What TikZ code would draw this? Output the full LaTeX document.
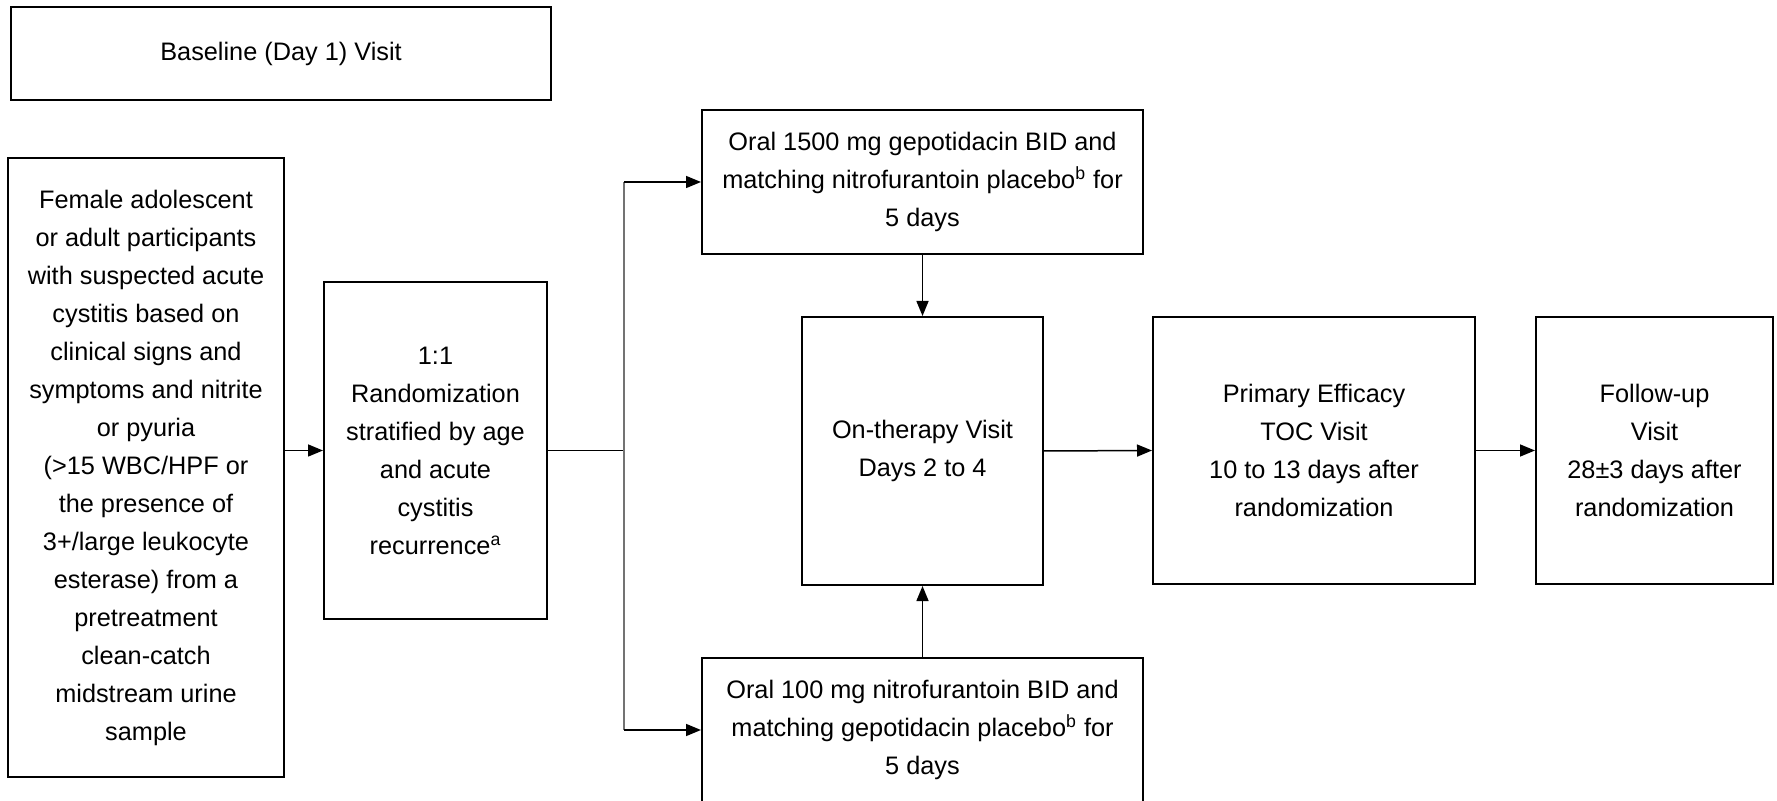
\documentclass[tikz,border=0pt]{standalone}
\usepackage{fontspec}
\setmainfont{Liberation Sans}
\usetikzlibrary{calc,arrows.meta}

\tikzset{
	flowbox/.style={draw,line width=1pt,inner sep=0pt,align=center,font=\fontsize{12.65}{19}\selectfont},
	arr/.style={line width=.75pt,-{Triangle[length=7.5pt,width=6pt]}},
}

\begin{document}
\begin{tikzpicture}[x=0.5pt,y=-0.5pt]
\useasboundingbox (0,0) rectangle (1777,801);

\node [flowbox,minimum width=270pt,minimum height=46.5pt] at (281,53.5) (base) {Baseline (Day 1) Visit};

\node [flowbox,minimum width=138pt,minimum height=309.5pt] at (146,467.5) (src) {Female adolescent\\or adult participants\\with suspected acute\\cystitis based on\\clinical signs and\\symptoms and nitrite\\or pyuria\\(>15 WBC/HPF or\\the presence of\\3+/large leukocyte\\esterase) from a\\pretreatment\\clean-catch\\midstream urine\\sample};

\node [flowbox,minimum width=111.5pt,minimum height=168.5pt] at (435.5,450.5) (rand) {1:1\\Randomization\\stratified by age\\and acute\\cystitis\\recurrence\textsuperscript{a}};

\node [flowbox,minimum width=220.5pt,minimum height=72pt] at (922.5,182) (gep) {Oral 1500 mg gepotidacin BID and\\matching nitrofurantoin placebo\textsuperscript{b} for\\5 days};
\node [flowbox,minimum width=220.5pt,minimum height=72pt] at (922.5,730) (nit) {Oral 100 mg nitrofurantoin BID and\\matching gepotidacin placebo\textsuperscript{b} for\\5 days};

\node [flowbox,minimum width=120.5pt,minimum height=134pt] at (922.5,451) (onth) {On-therapy Visit\\Days 2 to 4};
\node [flowbox,minimum width=161pt,minimum height=133.5pt] at (1314,450.5) (toc) {Primary Efficacy\\TOC Visit\\10 to 13 days after\\randomization};
\node [flowbox,minimum width=118.5pt,minimum height=133.5pt] at (1654.5,450.5) (fu) {Follow-up\\Visit\\28±3 days after\\randomization};

%%%%%%%%%%%%%%%%%%%%%%%%%%%%%%%%%%%%%%%%%%%%%%%%%%%%%%%%%%%%%%%%

\draw [arr] (rand.west -| src.east) -- (rand.west);

\coordinate (split) at (624,450.5);
\draw [line width=.75pt] (rand.east) -- (split);
\draw [line width=1pt,black!55] (split |- gep.west) -- (split |- nit.west);
\draw [arr] (split |- gep.west) -- (gep.west);
\draw [arr] (split |- nit.west) -- (nit.west);

\draw [arr] (gep.south) -- (onth.north);
\draw [arr] (nit.north) -- (onth.south);

\draw [arr] (onth.east) -- (toc.west);
\draw [arr] (toc.east) -- (fu.west);

\end{tikzpicture}
\end{document}
